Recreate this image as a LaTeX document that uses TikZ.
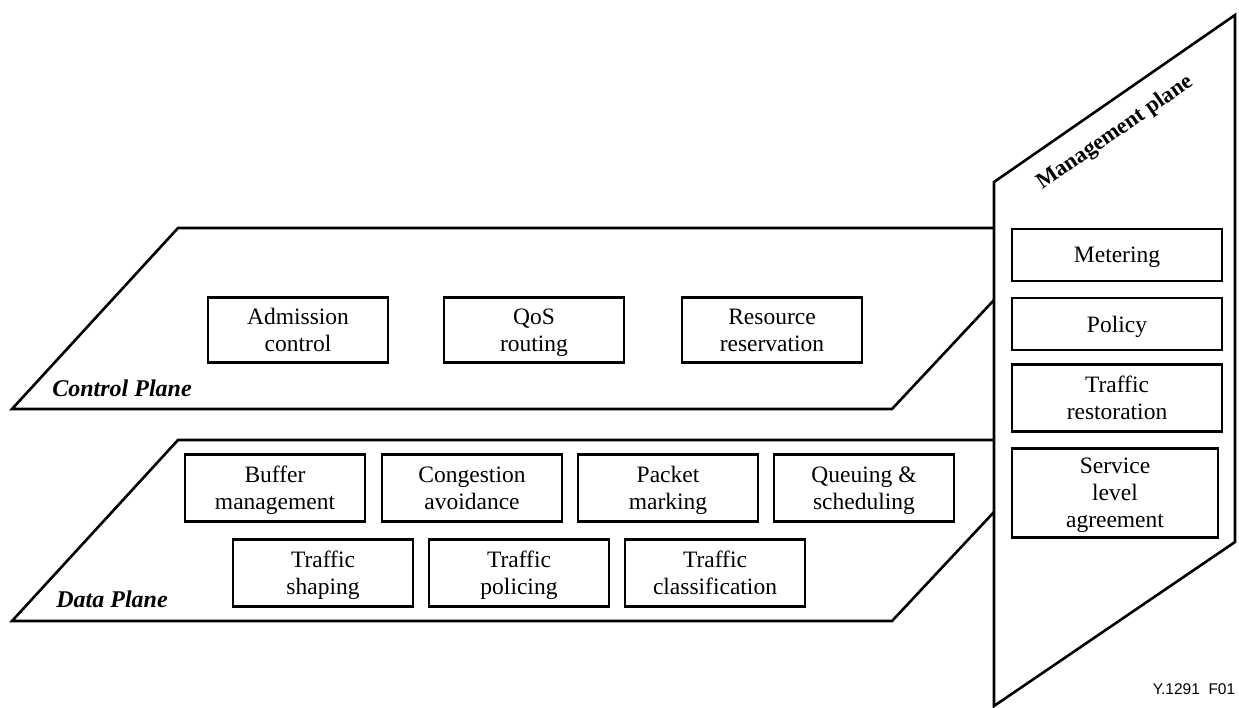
\documentclass[tikz,border=0pt]{standalone}
\usepackage{fontspec}
\setmainfont{Liberation Serif}
\newfontfamily\tagfont{Liberation Sans}
\usetikzlibrary{positioning}
\tikzset{
  qplane/.style ={line width=2.6pt, black, line join=miter},
  qfunc/.style  ={rectangle, draw=black, line width=2.3pt, fill=white,
                  minimum width=180pt, minimum height=65pt, inner sep=2pt,
                  align=center, font=\fontsize{23.5}{27}\selectfont,
                  execute at begin node=\rule{0pt}{16pt}, text depth=0pt},
  qmfunc/.style ={qfunc, minimum width=210pt, minimum height=52pt},
  qlabel/.style ={font=\fontsize{24}{27}\selectfont\bfseries\itshape},
}
\begin{document}
\begin{tikzpicture}[x=1pt, y=-1pt]
  \useasboundingbox (0,0) rectangle (1239,708);
  % planes
  \draw[qplane] (994,228) -- (178,228) -- (12,409) -- (892,409) -- (994,300);
  \draw[qplane] (994,440) -- (178,440) -- (12,621) -- (892,621) -- (994,512);
  \draw[qplane] (994,182) -- (1235,15) -- (1235,542) -- (994,706) -- cycle;
  \node[qlabel] (cpl) at (122,388) {Control Plane};
  \node[qlabel] (dpl) at (112,599) {Data Plane};
  \node[font=\fontsize{22.5}{26}\selectfont\bfseries, rotate=34.7] (mpl) at (1115,133) {Management plane};
  % control plane
  \node[qfunc] (adm)  at (298,330) {Admission\\control};
  \node[qfunc] (qos)  at (534,330) {QoS\\routing};
  \node[qfunc] (resv) at (772,330) {Resource\\reservation};
  % data plane
  \node[qfunc, minimum height=67pt] (buf)   at (275,488) {Buffer\\management};
  \node[qfunc, minimum height=67pt] (cong)  at (472,488) {Congestion\\avoidance};
  \node[qfunc, minimum height=67pt] (pkt)   at (668,488) {Packet\\marking};
  \node[qfunc, minimum height=67pt] (queue) at (864,488) {Queuing \&\\scheduling};
  \node[qfunc, minimum height=67pt] (shape)   at (323,573) {Traffic\\shaping};
  \node[qfunc, minimum height=67pt] (police)  at (519,573) {Traffic\\policing};
  \node[qfunc, minimum height=67pt] (classif) at (715,573) {Traffic\\classification};
  % management plane
  \node[qmfunc] (meter)   at (1117,255) {Metering};
  \node[qmfunc] (policy)  at (1117,324) {Policy};
  \node[qmfunc, minimum height=67pt] (restore) at (1117,398) {Traffic\\restoration};
  \node[qmfunc, minimum width=206pt, minimum height=89pt] (sla) at (1115,493) {Service\\level\\agreement};
  \node[font=\tagfont\fontsize{15.5}{18}\selectfont] (tag) at (1194,689) {Y.1291\ \ F01};
\end{tikzpicture}
\end{document}
